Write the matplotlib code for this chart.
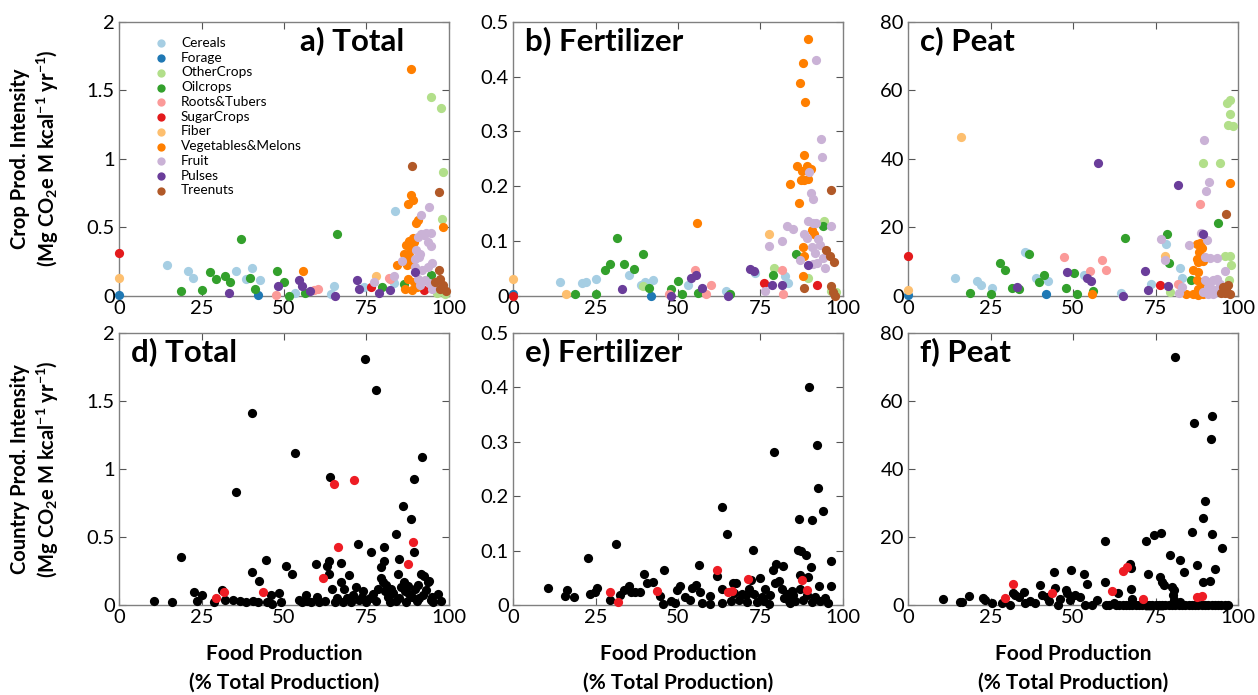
import numpy as np
import matplotlib
matplotlib.use("Agg")
import matplotlib.pyplot as plt

plt.rcParams['font.family'] = ['Lato', 'DejaVu Sans']
plt.rcParams['mathtext.fontset'] = 'custom'
plt.rcParams['mathtext.rm'] = 'Lato:bold'
plt.rcParams['mathtext.default'] = 'rm'

# crop categories and colours
categories = ['Cereals', 'Forage', 'OtherCrops', 'Oilcrops', 'Roots&Tubers', 'SugarCrops',
              'Fiber', 'Vegetables&Melons', 'Fruit', 'Pulses', 'Treenuts']
colors = ['#a6cee3', '#1f78b4', '#b2df8a', '#33a02c', '#fb9a99', '#e31a1c',
          '#fdbf6f', '#ff7f00', '#cab2d6', '#6a3d9a', '#b15928']

# ---- a) Total (crop level) ----
a_x = {
    'Cereals': [14.5, 21, 22.3, 35.4, 38.5, 40.3, 42.6, 53.2, 64.1, 65.1, 74.2, 83.5, 83.3, 82.5],
    'Forage': [0, 42.1],
    'OtherCrops': [94.7, 97.5, 98.3, 97.8, 96.3, 98.8, 95.5],
    'Oilcrops': [18.7, 25.1, 27.6, 29.5, 32, 33.7, 36.9, 39.8, 41.1, 47.9, 50.1, 51.6, 56.5, 66.2, 79.8, 86.3, 94.4],
    'Roots&Tubers': [47.6, 59.2, 60.3, 81.8, 82.0],
    'SugarCrops': [0, 76.5, 92.5],
    'Fiber': [0, 77.9],
    'Vegetables&Melons': [55.8, 88.4, 88.4, 89.1, 87.7, 90.7, 89.9, 98.2, 89, 88, 87, 88.4, 89.4, 86.5,
                          87.5, 88.5, 87.2, 86.3, 88, 84.3, 86.8, 88.9, 90.3, 87.5, 89.5],
    'Fruit': [77.2, 83.3, 93.8, 91.4, 91.6, 93.1, 94.7, 90.6, 92.4, 93.5, 94.5, 90.0, 91.2, 89.8, 90.8,
              85.7, 94.8, 89.6, 91.8, 93.6, 90.6, 91.3, 92.8, 93.9, 95.0],
    'Pulses': [33.2, 48.1, 54.5, 55.5, 57.8, 65.4, 72, 72.8, 78.7, 82.1, 89.7],
    'Treenuts': [88.7, 97, 97, 95.9, 97.4, 98.3, 99, 97.2],
}
a_y = {
    'Cereals': [0.22, 0.18, 0.13, 0.18, 0.12, 0.20, 0.11, 0.02, 0.01, 0.07, 0.06, 0.62, 0.09, 0.12],
    'Forage': [0.007, 0.007],
    'OtherCrops': [1.45, 1.37, 0.90, 0.56, 0.02, 0.01, 0.06],
    'Oilcrops': [0.03, 0.04, 0.17, 0.12, 0.14, 0.10, 0.41, 0.13, 0.05, 0.18, 0.10, 0.0, 0.015, 0.45, 0.06, 0.085, 0.15],
    'Roots&Tubers': [0.007, 0.04, 0.05, 0.13, 0.12],
    'SugarCrops': [0.31, 0.06, 0.04],
    'Fiber': [0.13, 0.14],
    'Vegetables&Melons': [0.18, 1.66, 0.735, 0.70, 0.67, 0.55, 0.53, 0.50, 0.42, 0.40, 0.37, 0.36, 0.39, 0.30,
                          0.28, 0.24, 0.22, 0.25, 0.31, 0.22, 0.05, 0.04, 0.06, 0.12, 0.10],
    'Fruit': [0.10, 0.14, 0.65, 0.59, 0.45, 0.46, 0.46, 0.43, 0.44, 0.39, 0.36, 0.33, 0.30, 0.27, 0.28,
              0.25, 0.24, 0.21, 0.19, 0.21, 0.12, 0.08, 0.11, 0.09, 0.05],
    'Pulses': [0.02, 0.07, 0.11, 0.07, 0.03, 0.0, 0.11, 0.05, 0.02, 0.04, 0.17],
    'Treenuts': [0.95, 0.76, 0.19, 0.10, 0.12, 0.08, 0.03, 0.05],
}

# ---- b) Fertilizer (crop level) ----
b_x = {
    'Cereals': [14.2, 20.8, 22, 25.3, 35.3, 38.8, 40.1, 42.3, 52.9, 64.4, 73.4, 82.3, 83.2],
    'Forage': [0, 41.8],
    'OtherCrops': [39.5, 79.2, 94.3, 89.5, 96.5, 98],
    'Oilcrops': [18.8, 25, 27.8, 29.3, 31.6, 33.5, 36.6, 39.5, 41.3, 47.8, 50, 51.2, 56.1, 65.7, 78.9, 85.9, 94],
    'Roots&Tubers': [47.3, 55.2, 58.6, 59.9, 81.6, 81.9],
    'SugarCrops': [0, 76.1, 92],
    'Fiber': [0, 16, 77.6],
    'Vegetables&Melons': [55.8, 84, 86.8, 86.2, 87.5, 87.2, 88.3, 88.3, 89, 90.2, 89.3, 87, 87.8, 88.5,
                          89.3, 87.8, 88.3, 87.8, 90.5, 91.3],
    'Fruit': [77.6, 76.4, 81.6, 83, 85, 91.7, 93.2, 93.5, 89.7, 90.3, 91, 89.3, 91.9, 91.0, 88.3, 89,
              92.3, 93, 90.5, 91.5, 94, 94.5, 90.8, 92.2, 96.3, 86.9],
    'Pulses': [33, 48, 53.9, 55.4, 57.4, 65.2, 71.9, 72.9, 78.6, 81.6, 89.5],
    'Treenuts': [96.3, 95, 96, 97.3, 88.3, 96.5, 97, 97.5],
}
b_y = {
    'Cereals': [0.024, 0.023, 0.024, 0.031, 0.037, 0.02, 0.024, 0.028, 0.02, 0.009, 0.041, 0.035, 0.023],
    'Forage': [0.002, 0.0],
    'OtherCrops': [0.017, 0.05, 0.136, 0.032, 0.009, 0.006],
    'Oilcrops': [0.002, 0.002, 0.047, 0.058, 0.105, 0.058, 0.048, 0.075, 0.014, 0.012, 0.026, 0.002, 0.005,
                 0.003, 0.037, 0.075, 0.127],
    'Roots&Tubers': [0.002, 0.047, 0.002, 0.02, 0.046, 0.002],
    'SugarCrops': [0.0, 0.023, 0.02],
    'Fiber': [0.031, 0.002, 0.112],
    'Vegetables&Melons': [0.133, 0.203, 0.17, 0.237, 0.228, 0.211, 0.211, 0.257, 0.237, 0.231, 0.213, 0.389,
                          0.425, 0.354, 0.469, 0.088, 0.073, 0.035, 0.119, 0.113],
    'Fruit': [0.09, 0.008, 0.1, 0.127, 0.121, 0.43, 0.286, 0.254, 0.225, 0.188, 0.176, 0.136, 0.133, 0.133,
              0.112, 0.106, 0.104, 0.092, 0.088, 0.078, 0.068, 0.05, 0.058, 0.06, 0.127, 0.065],
    'Pulses': [0.011, 0.0, 0.032, 0.037, 0.014, 0.0, 0.048, 0.045, 0.02, 0.02, 0.055],
    'Treenuts': [0.192, 0.084, 0.073, 0.062, 0.014, 0.017, 0.006, 0.0],
}

# ---- c) Peat (crop level) ----
c_x = {
    'Cereals': [14.3, 20.8, 22.1, 25.3, 35.4, 36.1, 38.9, 42.4, 53.2, 64.5, 73.6, 78.1, 82.4, 83.1],
    'Forage': [0, 41.9],
    'OtherCrops': [79.4, 89.4, 94.5, 96.7, 97.7, 97.5, 97, 98.4, 96.2, 97.5, 97.9, 97.2],
    'Oilcrops': [18.8, 25, 27.8, 29.3, 31.6, 33.6, 36.7, 39.6, 41.2, 47.9, 50.2, 51.3, 56.2, 65.7, 78.4,
                 79.1, 85.9, 93.9],
    'Roots&Tubers': [47.4, 55.3, 58.7, 60, 81.8, 88.6],
    'SugarCrops': [0, 76.3],
    'Fiber': [0, 16.1, 77.8],
    'Vegetables&Melons': [55.9, 84.1, 97.5, 87.5, 88.5, 89, 88.2, 87.5, 88, 89.5, 86.5, 88, 87.5, 88.8, 88,
                          89.5, 86.5, 88, 89.5],
    'Fruit': [76.6, 77.8, 82.1, 83.1, 85.1, 89.6, 91.1, 90.3, 88.8, 90.6, 93.7, 96.2, 90, 91.5, 93.5, 90,
              91.5, 92.5, 93.5, 94.5, 91, 92, 93, 94, 95, 89.5, 91, 92.5],
    'Pulses': [32.9, 48.1, 54.2, 55.5, 57.5, 65.3, 71.8, 72.8, 78.8, 81.8, 89.4],
    'Treenuts': [96.5, 95.5, 96.5, 97, 96, 97.5, 95],
}
c_y = {
    'Cereals': [5.2, 4.2, 3.2, 2.3, 12.7, 12.4, 5.1, 4.1, 5.9, 0.7, 3.4, 15.2, 8, 5.2],
    'Forage': [0.2, 0.3],
    'OtherCrops': [1, 38.9, 38.7, 56.3, 57.3, 53.1, 50, 49.7, 11.5, 11.7, 9, 4.4],
    'Oilcrops': [0.8, 0.3, 9.6, 7.6, 2.3, 1.8, 12.2, 3.9, 5.9, 2.3, 6.6, 0.3, 1.3, 16.8, 17.9, 9.6, 4.6, 21.2],
    'Roots&Tubers': [11.3, 7.1, 10.5, 7.6, 3.4, 26.9],
    'SugarCrops': [11.7, 3.2],
    'Fiber': [1.7, 46.3, 11.5],
    'Vegetables&Melons': [0.3, 0.3, 32.8, 15.2, 15.4, 13.8, 12.6, 10.8, 9.8, 10, 7.5, 6.8, 4.6, 3.9, 2.0,
                          2.4, 0.3, 0.1, 0.5],
    'Fruit': [16.4, 10.3, 0.7, 2.4, 14.9, 45.5, 33.3, 30.6, 18.3, 16.3, 11.1, 7.1, 11.3, 11.1, 4.4, 4.4,
              3.9, 4.6, 4.9, 3.4, 2.4, 1.9, 1.5, 1.7, 2.0, 1.0, 0.3, 0.5],
    'Pulses': [2.4, 6.9, 5.2, 4.1, 38.7, 0, 7.3, 1.7, 2.7, 32.3, 18.1],
    'Treenuts': [23.8, 2.4, 1.5, 3.0, 0.7, 0.5, 0.8],
}

# ---- country level (black), highlighted countries (red) ----
d_x = [10.5, 16.2, 18.7, 22.6, 23.6, 25.3, 28.8, 31.2, 32.2, 34.4, 35.6, 36.6, 38.4, 40.2, 40.4, 40.5,
       42, 42.5, 44.5, 45, 46, 46.5, 48.5, 49, 50.6, 52.3, 53.3, 54.6, 55.5, 56.6, 57.1, 58.1, 59.7, 60.1,
       60.6, 62.5, 63, 63.7, 63.7, 63.8, 64.7, 65.5, 67.2, 67.2, 68.3, 69.6, 70.2, 71.8, 72.3, 72.7, 73.5,
       74.5, 75, 76.3, 77.8, 77, 78, 79.3, 80.2, 80.4, 80, 79.5, 81, 80.5, 81.5, 82, 83, 83.9, 84.4, 84.9,
       85.5, 85, 86.1, 86.4, 86.8, 87, 87.5, 88.4, 88.7, 89.4, 89.3, 89.8, 90.5, 90.2, 91.5, 91.7, 92.5,
       92, 93, 93.5, 94, 94.5, 95.2, 96.6, 97.6, 69, 68, 71, 66, 74, 76, 78.5, 82.5, 84, 88, 91, 94.8]
d_y = [0.03, 0.02, 0.355, 0.095, 0.03, 0.07, 0.02, 0.11, 0.04, 0.04, 0.83, 0.03, 0.02, 0.24, 1.41, 0.03,
       0.02, 0.18, 0.33, 0.025, 0.07, 0.01, 0.085, 0.02, 0.29, 0.23, 1.12, 0.04, 0.02, 0.07, 0.03, 0.02,
       0.30, 0.06, 0.02, 0.03, 0.29, 0.32, 0.225, 0.94, 0.12, 0.02, 0.31, 0.17, 0.12, 0.22, 0.02, 0.135,
       0.45, 0.04, 0.06, 1.81, 0.02, 0.39, 1.58, 0.08, 0.03, 0.28, 0.32, 0.43, 0.17, 0.2, 0.15, 0.1, 0.06,
       0.02, 0.09, 0.52, 0.225, 0.34, 0.13, 0.05, 0.73, 0.17, 0.1, 0.02, 0.14, 0.63, 0.06, 0.39, 0.93, 0.12,
       0.15, 0.03, 0.225, 1.09, 0.21, 0.07, 0.11, 0.17, 0.18, 0.04, 0.02, 0.08, 0.03, 0.05, 0.02, 0.07,
       0.05, 0.1, 0.05, 0.12, 0.12, 0.03, 0.08, 0.05, 0.06]

e_x = [10.5, 15.8, 16.3, 18.5, 22.6, 23.2, 24.9, 25.4, 29.4, 31.1, 32.5, 33.7, 35, 35.7, 37, 38.5, 39.8,
       40.5, 42.3, 44.4, 45.4, 45.9, 47.8, 49.1, 49.6, 50.6, 52.1, 53.6, 54.1, 55.4, 56.4, 56.7, 57.2, 59.7,
       59.7, 61.9, 63.4, 63.2, 63.2, 64.9, 66.7, 67.7, 68.5, 69.5, 70.6, 70.8, 72.6, 72, 73, 74, 75, 75.5,
       76.5, 77.5, 78.8, 79.1, 79.8, 81.9, 79.5, 80.5, 81.5, 82, 83, 84, 85, 86.6, 86.4, 87.4, 88.9, 86.9,
       89.4, 90.4, 89.7, 90.6, 92.2, 92.4, 92.7, 94, 96.3, 96.5, 88, 89, 90.5, 91.5, 93, 94.5, 95.5, 87,
       85.5, 84.5, 83.5, 66, 67, 71.5, 76, 78]
e_y = [0.032, 0.017, 0.028, 0.014, 0.087, 0.021, 0.023, 0.032, 0.009, 0.112, 0.018, 0.028, 0.034, 0.023,
       0.023, 0.023, 0.057, 0.041, 0.043, 0.017, 0.002, 0.064, 0.008, 0.003, 0.028, 0.034, 0.014, 0.009,
       0.031, 0.037, 0.073, 0.023, 0.004, 0.017, 0.002, 0.054, 0.181, 0.029, 0.004, 0.13, 0.04, 0.04, 0.01,
       0.02, 0.018, 0.006, 0.101, 0.046, 0.02, 0.005, 0.05, 0.015, 0.03, 0.002, 0.064, 0.281, 0.075, 0.072,
       0.04, 0.045, 0.03, 0.012, 0.02, 0.004, 0.018, 0.158, 0.101, 0.1, 0.092, 0.056, 0.052, 0.07, 0.401,
       0.156, 0.295, 0.215, 0.035, 0.173, 0.08, 0.034, 0.01, 0.018, 0.005, 0.015, 0.008, 0.012, 0.004, 0.03,
       0.007, 0.025, 0.008, 0.008, 0.022, 0.03, 0.008, 0.018]

f_x = [10.5, 15.9, 16.4, 18.6, 22.6, 23.4, 25.3, 28.5, 31.0, 31.7, 32.5, 33.7, 35.1, 35.6, 37.1, 38.6,
       40.1, 40.6, 42.1, 42.6, 44.3, 44.6, 45.4, 46.2, 47.9, 48.2, 49.4, 49.2, 50.7, 52.2, 53.2, 54.2, 53.7,
       55.8, 57.3, 59.6, 59.8, 60, 62.3, 63.6, 67.4, 67.7, 67.7, 67.9, 72.1, 72.7, 74.6, 76.7, 76.5, 77,
       77.7, 79.3, 80, 80.5, 80.3, 80.5, 81, 82.4, 83.6, 82.5, 86.7, 86.2, 87.5, 89.5, 90, 89.3, 91.5, 92,
       91.7, 92.2, 93, 95.3,
       61, 63, 64, 65, 66, 67, 68, 69, 70, 71, 72, 73, 74, 75, 76, 77, 78, 79, 80, 81, 82, 83, 84, 85, 86,
       87, 88, 89, 90, 91, 92, 93, 94, 95, 96, 97]
f_y = [1.7, 0.8, 0.8, 2.7, 2.0, 1.5, 0.5, 0.7, 0, 3.4, 2.9, 2.4, 3.9, 0.7, 1.3, 0.7, 5.9, 2.9, 2.3, 1.3,
       9.6, 5.1, 0, 1.7, 4.4, 3.4, 10.3, 1.5, 2.9, 2.3, 9.1, 6.2, 0, 0, 1.5, 18.9, 6.9, 0, 0.7, 3.6, 12,
       10.8, 4.6, 1.7, 18.9, 9.1, 20.6, 21.3, 8.3, 6.9, 5.9, 14.7, 5.4, 4.4, 2.9, 1.5, 72.9, 13.2, 9.6, 1.0,
       53.6, 21.5, 11.7, 25.5, 30.5, 6.9, 7, 55.5, 48.7, 21, 10.5, 16.9,
       0, 0, 0, 0, 0, 0, 0, 0, 0, 0, 0, 0, 0, 0, 0, 0, 0, 0, 0, 0, 0, 0, 0, 0, 0,
       0, 0, 0, 0, 0, 0, 0, 0, 0, 0, 0]

red_x = [29.5, 31.8, 43.5, 61.8, 65.2, 66.4, 71.1, 87.6, 89.2]
red_total = [0.05, 0.095, 0.095, 0.20, 0.89, 0.43, 0.92, 0.30, 0.465]
red_fert = [0.023, 0.006, 0.026, 0.065, 0.024, 0.026, 0.047, 0.046, 0.028]
red_peat = [2.0, 6.2, 3.4, 4.1, 10.0, 11.3, 1.7, 2.4, 2.7]

ylims = [2, 0.5, 80]
yticks = [[0, 0.5, 1, 1.5, 2], [0, 0.1, 0.2, 0.3, 0.4, 0.5], [0, 20, 40, 60, 80]]
yticklabels = [['0', '0.5', '1', '1.5', '2'], ['0', '0.1', '0.2', '0.3', '0.4', '0.5'],
               ['0', '20', '40', '60', '80']]
xticks = [0, 25, 50, 75, 100]

fig = plt.figure(figsize=(12.58, 6.95), dpi=100)
lefts = [0.0946, 0.4078, 0.7218]
w = 0.2623
top_row = []
bot_row = []
for i in range(3):
    top_row.append(fig.add_axes([lefts[i], 0.5748, w, 0.3935]))
    bot_row.append(fig.add_axes([lefts[i], 0.1295, w, 0.3914]))

ms = 44
# top row
for ax, xs, ys in zip(top_row, [a_x, b_x, c_x], [a_y, b_y, c_y]):
    for cat, col in zip(categories, colors):
        ax.scatter(xs[cat], ys[cat], s=ms, color=col, label=cat, linewidths=0, zorder=3, clip_on=False)

# bottom row
for ax, xs, ys, ry in zip(bot_row, [d_x, e_x, f_x], [d_y, e_y, f_y], [red_total, red_fert, red_peat]):
    ax.scatter(xs, ys, s=ms, color='black', linewidths=0, zorder=3, clip_on=False)
    ax.scatter(red_x, ry, s=ms, color='#ee1c24', linewidths=0, zorder=4, clip_on=False)

for row in [top_row, bot_row]:
    for j, ax in enumerate(row):
        ax.set_xlim(0, 100)
        ax.set_ylim(0, ylims[j])
        ax.set_xticks(xticks)
        ax.set_yticks(yticks[j])
        ax.set_yticklabels(yticklabels[j])
        ax.tick_params(direction='in', top=True, right=True, length=5, width=0.8, color='#555555',
                       labelsize=14.5, pad=3)
        for sp in ax.spines.values():
            sp.set_color('#808080')
            sp.set_linewidth(1.0)

titles_top = ['a) Total', 'b) Fertilizer', 'c) Peat']
titles_bot = ['d) Total', 'e) Fertilizer', 'f) Peat']
top_row[0].text(0.865, 0.93, titles_top[0], transform=top_row[0].transAxes, fontsize=22.5,
                fontweight='bold', ha='right', va='center')
for j in [1, 2]:
    top_row[j].text(0.035, 0.93, titles_top[j], transform=top_row[j].transAxes, fontsize=22.5,
                    fontweight='bold', ha='left', va='center')
for j in range(3):
    bot_row[j].text(0.035, 0.93, titles_bot[j], transform=bot_row[j].transAxes, fontsize=22.5,
                    fontweight='bold', ha='left', va='center')

top_row[0].legend(loc='upper left', bbox_to_anchor=(0.06, 0.975), frameon=False, fontsize=9.8,
                  handletextpad=0.5, labelspacing=0.2, borderaxespad=0.2, scatterpoints=1,
                  markerscale=0.9)

for ax in bot_row:
    ax.set_xlabel('Food Production\n(% Total Production)', fontsize=15, fontweight='bold',
                  linespacing=1.55, labelpad=13)

fig.text(0.028, 0.772, 'Crop Prod. Intensity\n(Mg CO$_2$e M kcal$^{-1}$ yr$^{-1}$)', rotation=90,
         fontsize=14.5, fontweight='bold', ha='center', va='center', linespacing=1.25)
fig.text(0.028, 0.325, 'Country Prod. Intensity\n(Mg CO$_2$e M kcal$^{-1}$ yr$^{-1}$)', rotation=90,
         fontsize=14.5, fontweight='bold', ha='center', va='center', linespacing=1.25)

fig.savefig('out.png', dpi=100)
